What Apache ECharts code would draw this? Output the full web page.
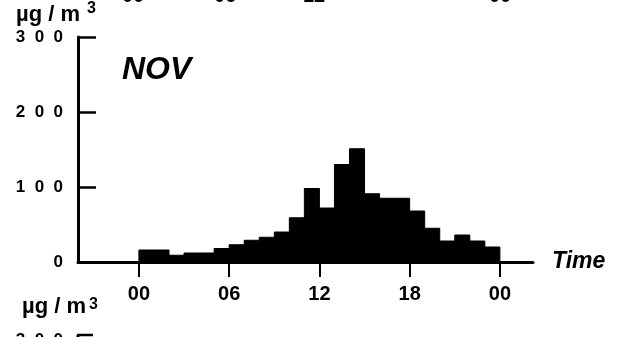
<!DOCTYPE html>
<html>
<head>
<meta charset="utf-8">
<script src="https://cdn.jsdelivr.net/npm/echarts@6/dist/echarts.min.js"></script>
<style>
  html, body { margin: 0; padding: 0; background: #fff; }
  #chart { width: 625px; height: 337px; }
</style>
</head>
<body>
<div id="chart"></div>
<script>
// Hourly mean concentration, November (µg/m³)
const hourStart = [0, 1, 2, 3, 4, 5, 6, 7, 8, 9, 10, 11, 12, 13, 14, 15, 16, 17, 18, 19, 20, 21, 22, 23];
const concentration = [16, 16, 9, 12, 12, 18, 23, 29, 33, 40, 59, 98, 72, 130, 151, 91, 85, 85, 68, 45, 28, 36, 28, 20];

// Axis ticks and their labels
const timeTicks = [0, 6, 12, 18, 24];
const timeTickLabels = ['00', '06', '12', '18', '00'];
const concTicks = [0, 100, 200, 300];
const concTickLabels = ['0', '100', '200', '300'];

const monthLabel = 'NOV';
const unitLabel = 'µg / m';
const unitPower = '3';
const axisTitle = 'Time';

// Labels of the neighbouring panels that run off the edges
const prevPanelLabels = ['00', '06', '12', '00'];
const prevPanelLabelX = [133, 225, 314, 500];
const nextPanelTopLabel = '300';

const FONT = 'Liberation Sans';
const spaced = s => s.split('').join('  ');

const bins = hourStart.map((h, i) => [h, h + 1, concentration[i]]);

const chart = echarts.init(document.getElementById('chart'), null, { renderer: 'canvas' });

const graphics = [
  { type: 'text', left: 122, top: 54,
    style: { text: monthLabel, font: 'italic bold 32px "' + FONT + '"', fill: '#000' } },
  { type: 'text', x: 16, y: 15, style: { text: unitLabel, font: 'bold 22px "' + FONT + '"', fill: '#000', verticalAlign: 'middle' } },
  { type: 'text', x: 87, y: 9, style: { text: unitPower, font: 'bold 16px "' + FONT + '"', fill: '#000', verticalAlign: 'middle' } },
  { type: 'text', x: 22, y: 307, style: { text: unitLabel, font: 'bold 22px "' + FONT + '"', fill: '#000', verticalAlign: 'middle' } },
  { type: 'text', x: 89, y: 305, style: { text: unitPower, font: 'bold 16px "' + FONT + '"', fill: '#000', verticalAlign: 'middle' } },
  { type: 'text', x: 63, y: 340, style: { text: spaced(nextPanelTopLabel), font: 'bold 17px "' + FONT + '"', fill: '#000', align: 'right', verticalAlign: 'middle' } },
  { type: 'line', shape: { x1: 77, y1: 335, x2: 93, y2: 335 }, style: { stroke: '#000', lineWidth: 2.5 } },
  { type: 'line', shape: { x1: 78, y1: 335, x2: 78, y2: 340 }, style: { stroke: '#000', lineWidth: 3 } }
];
prevPanelLabels.forEach((t, i) => {
  graphics.push({ type: 'text', x: prevPanelLabelX[i], y: -4,
    style: { text: t, font: 'bold 20px "' + FONT + '"', fill: '#000', align: 'center', verticalAlign: 'middle' } });
});

chart.setOption({
  animation: false,
  backgroundColor: '#fff',
  grid: { left: 78, right: 92, top: 37, bottom: 75 },
  xAxis: {
    type: 'value',
    min: -4.05,
    max: 26.2,
    splitLine: { show: false },
    axisLine: { show: true, onZero: false, lineStyle: { color: '#000', width: 3 } },
    axisTick: { show: true, customValues: timeTicks, inside: false, length: 15, lineStyle: { color: '#000', width: 2 } },
    axisLabel: {
      customValues: timeTicks,
      margin: 22,
      color: '#000',
      fontFamily: FONT,
      fontWeight: 'bold',
      fontSize: 20,
      formatter: v => timeTickLabels[timeTicks.indexOf(v)]
    },
    name: axisTitle,
    nameLocation: 'end',
    nameGap: 19,
    nameTextStyle: { color: '#000', fontFamily: FONT, fontWeight: 'bold', fontStyle: 'italic', fontSize: 23, padding: [0, 0, 10, 0] }
  },
  yAxis: {
    type: 'value',
    min: 0,
    max: 300,
    interval: 100,
    splitLine: { show: false },
    axisLine: { show: true, onZero: false, lineStyle: { color: '#000', width: 3 } },
    axisTick: { show: true, inside: true, length: 18, lineStyle: { color: '#000', width: 2.5 } },
    axisLabel: {
      margin: 15,
      color: '#000',
      fontFamily: FONT,
      fontWeight: 'bold',
      fontSize: 17,
      formatter: v => spaced(concTickLabels[concTicks.indexOf(v)])
    }
  },
  series: [{
    type: 'custom',
    data: bins,
    encode: { x: [0, 1], y: 2 },
    renderItem: (params, api) => {
      const top = api.coord([api.value(0), api.value(2)]);
      const base = api.coord([api.value(1), 0]);
      return {
        type: 'rect',
        shape: { x: top[0], y: top[1], width: base[0] - top[0], height: base[1] - top[1] },
        style: { fill: '#000', stroke: '#000', lineWidth: 1 }
      };
    }
  }],
  graphic: graphics
});
</script>
</body>
</html>
